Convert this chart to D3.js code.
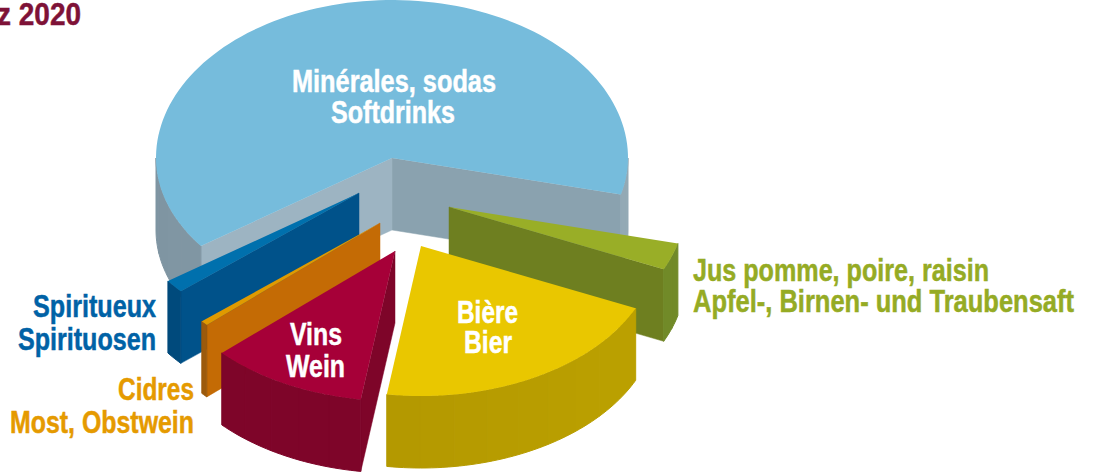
<!DOCTYPE html>
<html><head><meta charset="utf-8">
<script src="https://cdn.jsdelivr.net/npm/d3@7"></script>
<style>html,body{margin:0;padding:0;background:#fff;overflow:hidden}svg{display:block}
text{font-family:"Liberation Sans Narrow","Liberation Sans",sans-serif;font-weight:700}</style>
</head><body><svg id="c" width="1094" height="472"></svg>
<script>
// Data: share of each beverage (percent), clockwise from the right side
const categories = ["Jus","Bière","Vins","Cidres","Spiritueux","Minérales"];
const shares = [2.9, 20.5, 10.8, 0.5, 1.4, 63.9];

// Layout
const cx = 392, cy = 158, rx = 236, ryFront = 150, ryBack = 158, depth = 72;
const startDeg = 14.1;
const explodeX = [57, 29, 3, -12, -33, 0];
const explodeY = [49, 88, 93, 65, 35, 0];
const topCol   = ["#99ae27","#e9c700","#a60038","#e09a00","#0070ad","#76bcdc"];
const wallCol  = ["#6e7f20","#b49c00","#7e0529","#c46b05","#00528a","#9db4c2"];
const wall2Col = ["#6e7f20","#b49c00","#7e0529","#c46b05","#00528a","#8aa2af"];
const sideFrom = ["#718a28","#ad9300","#7e0529","#9c5a0c","#004a7c","#7f95a2"];
const sideTo   = ["#718a28","#bca100","#7e0529","#9c5a0c","#004a7c","#93a9b5"];
const drawOrder = [5,4,3,2,0,1];

const pie = d3.pie().sort(null)
  .startAngle((startDeg+90)*Math.PI/180)
  .endAngle((startDeg+90+360)*Math.PI/180);
const arcs = pie(shares);
const svg = d3.select("#c");
const line = d3.line();
const P = (i,th,dz=0)=>{const s=Math.sin(th);return [cx+explodeX[i]+rx*Math.cos(th), cy+explodeY[i]+(s>0?ryFront:ryBack)*s+dz];};
const apex = (i,dz=0)=>[cx+explodeX[i], cy+explodeY[i]+dz];

drawOrder.forEach(i=>{
  const a0 = arcs[i].startAngle-Math.PI/2, a1 = arcs[i].endAngle-Math.PI/2;
  const g = svg.append("g").attr("class","slice").attr("data-name",categories[i]);
  const wall = (th,c)=>g.append("path")
    .attr("d",line([apex(i),P(i,th),P(i,th,depth),apex(i,depth)])+"Z")
    .attr("fill",c).attr("stroke",c).attr("stroke-width",.5);
  // radial walls that face the viewer
  if(Math.cos(a1)>0) wall(a1,wall2Col[i]);
  if(Math.cos(a0)<0) wall(a0,wallCol[i]);
  // outer rim, in facets, only where it faces the viewer
  const ranges=[[0,Math.PI],[2*Math.PI,3*Math.PI]];
  const tone=d3.interpolateRgb(sideFrom[i],sideTo[i]);
  ranges.forEach(([lo,hi])=>{
    const s=Math.max(a0,lo), e=Math.min(a1,hi);
    if(e<=s) return;
    const n=Math.max(1,Math.ceil((e-s)/0.16));
    for(let k=0;k<n;k++){
      const t0=s+(e-s)*k/n, t1=s+(e-s)*(k+1)/n;
      const top=d3.range(0,7).map(j=>P(i,t0+(t1-t0)*j/6));
      const bot=top.map(p=>[p[0],p[1]+depth]).reverse();
      const xm=(top[0][0]+top[6][0])/2;
      const c=tone(Math.abs((xm-(cx+explodeX[i]-rx))/(2*rx)));
      g.append("path").attr("d",line(top.concat(bot))+"Z").attr("fill",c).attr("stroke",c).attr("stroke-width",1);
    }
  });
  // top face
  const pts=[apex(i)].concat(d3.range(0,121).map(j=>P(i,a0+(a1-a0)*j/120)));
  g.append("path").attr("d",line(pts)+"Z").attr("fill",topCol[i]);
});

// Labels
const labelText = ["z 2020","Minérales, sodas","Softdrinks","Bière","Bier","Vins","Wein",
  "Jus pomme, poire, raisin","Apfel-, Birnen- und Traubensaft","Spiritueux","Spirituosen","Cidres","Most, Obstwein"];
const labelX = [81,394,393,487.5,488,316,315.5,693,693,156,156,194,194];
const labelY = [25,92,123,323,353,345,377,281,312,317,350,400,433];
const labelW = [84,204,124,61,48,52,59,296,381,123,138,76,184];
const labelAnchor = ["end","middle","middle","middle","middle","middle","middle","start","start","end","end","end","end"];
const labelCol = ["#7e1237","#fff","#fff","#fff","#fff","#fff","#fff","#95ab24","#95ab24","#0062a6","#0062a6","#e59a00","#e59a00"];
svg.append("g").selectAll("text").data(labelText).join("text")
  .text(d=>d)
  .attr("x",(d,i)=>labelX[i]).attr("y",(d,i)=>labelY[i])
  .attr("text-anchor",(d,i)=>labelAnchor[i])
  .attr("font-size",32)
  .attr("textLength",(d,i)=>labelW[i])
  .attr("lengthAdjust","spacingAndGlyphs")
  .attr("fill",(d,i)=>labelCol[i])
  .attr("stroke",(d,i)=>labelCol[i]).attr("stroke-width",.5);
</script></body></html>
